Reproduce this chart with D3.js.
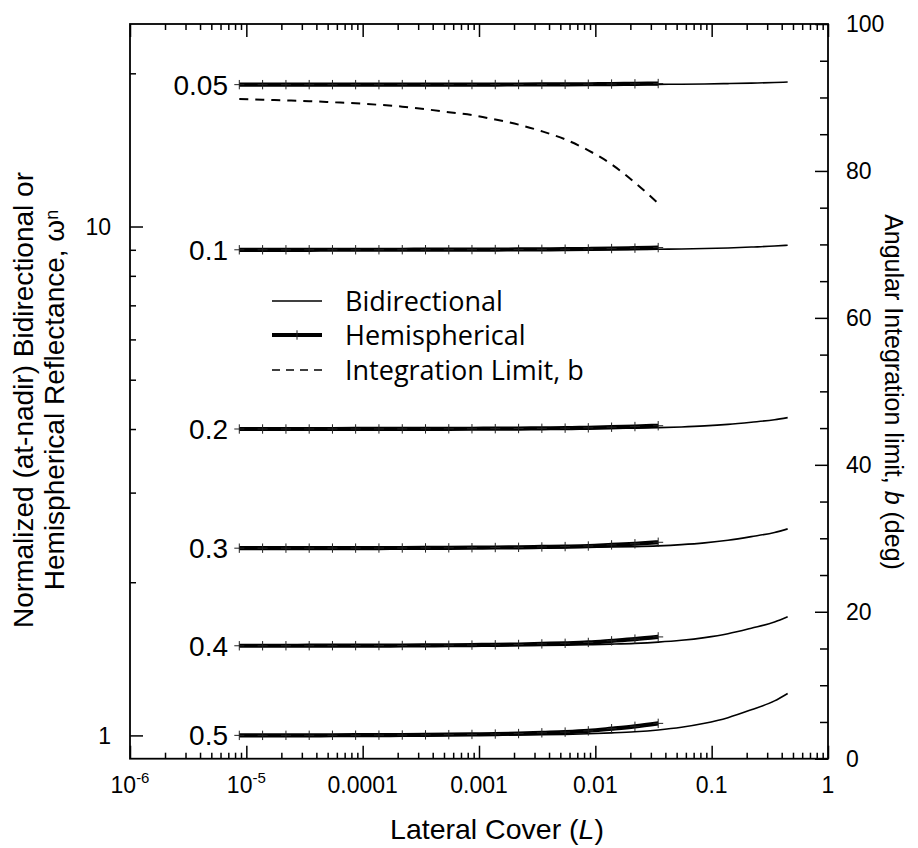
<!DOCTYPE html>
<html><head><meta charset="utf-8">
<script src="https://cdn.jsdelivr.net/npm/d3@7"></script>
<style>body{margin:0;background:#fff}svg{display:block}</style>
</head><body>
<svg id="c" width="918" height="848"></svg>
<script>
// ---------- data ----------
const curveLabels = ["0.05","0.1","0.2","0.3","0.4","0.5"];
const curveBase = [19, 9, 4, 2.333, 1.5, 1];

const coverHemi = [8.7e-6,1.38e-5,2.19e-5,3.47e-5,5.5e-5,8.7e-5,1.38e-4,2.19e-4,3.47e-4,5.5e-4,8.7e-4,1.38e-3,2.19e-3,3.47e-3,5.5e-3,8.7e-3,0.0138,0.0219,0.0347];
const coverBidir = [8.7e-6,1.38e-5,2.19e-5,3.47e-5,5.5e-5,8.7e-5,1.38e-4,2.19e-4,3.47e-4,5.5e-4,8.7e-4,1.38e-3,2.19e-3,3.47e-3,5.5e-3,8.7e-3,0.0138,0.0219,0.0347,0.055,0.087,0.138,0.219,0.347,0.45];

const bidir005 = [19,19,19,19,19,19,19,19,19,19.0005,19.0009,19.0014,19.002,19.0034,19.005,19.008,19.0125,19.018,19.027,19.041,19.062,19.091,19.135,19.185,19.228];
const bidir01  = [9,9,9,9,9,9,9,9,9,9.0005,9.0007,9.001,9.002,9.003,9.004,9.007,9.010,9.015,9.023,9.034,9.051,9.076,9.112,9.153,9.189];
const bidir02  = [4,4,4,4,4,4,4,4,4,4.0005,4.0008,4.0013,4.002,4.003,4.005,4.008,4.012,4.017,4.025,4.038,4.057,4.085,4.125,4.172,4.212];
const bidir03  = [2.333,2.333,2.333,2.333,2.333,2.333,2.333,2.333,2.333,2.3335,2.334,2.3343,2.335,2.336,2.338,2.341,2.345,2.350,2.358,2.371,2.390,2.418,2.458,2.505,2.546];
const bidir04  = [1.5,1.5,1.5,1.5,1.5,1.5,1.5,1.5,1.5,1.5005,1.5008,1.5013,1.502,1.503,1.5048,1.5076,1.5116,1.5168,1.5252,1.5378,1.5567,1.584,1.624,1.670,1.71];
const bidir05  = [1,1,1,1,1,1,1,1,1,1.0005,1.0008,1.0013,1.002,1.0031,1.0048,1.0075,1.0115,1.0167,1.025,1.0376,1.0564,1.0836,1.123,1.169,1.209];

const hemi005 = [19.0,19.0,19.001,19.001,19.001,19.002,19.002,19.003,19.004,19.006,19.008,19.01,19.014,19.02,19.026,19.035,19.052,19.071,19.095];
const hemi01  = [9.0004,9.0005,9.0006,9.0008,9.0012,9.0016,9.002,9.003,9.004,9.005,9.007,9.01,9.0135,9.019,9.024,9.033,9.05,9.0675,9.09];
const hemi02  = [4.0002,4.0003,4.0004,4.0005,4.0008,4.0011,4.0014,4.002,4.0027,4.0036,4.0048,4.0066,4.009,4.0126,4.016,4.022,4.033,4.045,4.06];
const hemi03  = [2.333,2.333,2.3335,2.3335,2.334,2.334,2.3345,2.335,2.336,2.337,2.338,2.340,2.342,2.346,2.350,2.356,2.368,2.380,2.396];
const hemi04  = [1.5002,1.5003,1.5004,1.5006,1.5008,1.5011,1.5015,1.502,1.5028,1.5037,1.5049,1.5068,1.509,1.513,1.517,1.523,1.534,1.546,1.5615];
const hemi05  = [1.0002,1.0003,1.0004,1.0005,1.0007,1.001,1.0013,1.0018,1.0025,1.0034,1.0045,1.0062,1.0084,1.0118,1.0151,1.0207,1.0308,1.042,1.056];

const intLimit = [89.8,89.7,89.6,89.5,89.35,89.2,89.0,88.75,88.4,88.0,87.6,87.0,86.3,85.4,84.3,82.8,80.9,78.4,75.6];

const xMajor = [1e-6,1e-5,1e-4,1e-3,1e-2,1e-1,1];
const xMajorLabels = [["10","-6"],["10","-5"],["0.0001",""],["0.001",""],["0.01",""],["0.1",""],["1",""]];
const yMajor = [1,10];
const yMajorLabels = ["1","10"];
const yMinor = [2,3,4,5,6,7,8,9,20];
const rMajor = [0,20,40,60,80,100];
const rMinor = [5,10,15,25,30,35,45,50,55,65,70,75,85,90,95];
const legendItems = ["Bidirectional","Hemispherical","Integration Limit, b"];

// ---------- layout ----------
const L = 130, R = 828, T = 24, B = 758.7;
const svg = d3.select("#c");
const x = d3.scaleLog().domain([1e-6,1]).range([L,R]);
const y = d3.scaleLog().domain([0.9,25]).range([B,T]);
const yr = d3.scaleLinear().domain([0,100]).range([B,T]);
const font = "'Liberation Sans', Arial, Helvetica, sans-serif";

const xMinor = [];
for (let k=-6;k<0;k++) for (let d=2;d<=9;d++) xMinor.push(d*Math.pow(10,k));

function strip(g){ g.select(".domain").remove(); g.selectAll("text").remove(); g.selectAll("line").attr("stroke","#000").attr("stroke-width",1.5); }
svg.append("g").attr("transform",`translate(0,${B})`).call(d3.axisBottom(x).tickValues(xMajor).tickSize(-13)).call(strip);
svg.append("g").attr("transform",`translate(0,${B})`).call(d3.axisBottom(x).tickValues(xMinor).tickSize(-6)).call(strip);
svg.append("g").attr("transform",`translate(0,${T})`).call(d3.axisTop(x).tickValues(xMajor).tickSize(-13)).call(strip);
svg.append("g").attr("transform",`translate(0,${T})`).call(d3.axisTop(x).tickValues(xMinor).tickSize(-6)).call(strip);
svg.append("g").attr("transform",`translate(${L},0)`).call(d3.axisLeft(y).tickValues(yMajor).tickSize(-13)).call(strip);
svg.append("g").attr("transform",`translate(${L},0)`).call(d3.axisLeft(y).tickValues(yMinor).tickSize(-6)).call(strip);
svg.append("g").attr("transform",`translate(${R},0)`).call(d3.axisRight(yr).tickValues(rMajor).tickSize(-13)).call(strip);
svg.append("g").attr("transform",`translate(${R},0)`).call(d3.axisRight(yr).tickValues(rMinor).tickSize(-8)).call(strip);

svg.append("rect").attr("x",L).attr("y",T).attr("width",R-L).attr("height",B-T)
  .attr("fill","none").attr("stroke","#000").attr("stroke-width",1.8);

// x labels
xMajor.forEach((v,i)=>{
  const t = svg.append("text").attr("x",x(v)).attr("y",793).attr("text-anchor","middle")
    .attr("font-family",font).attr("font-size",23).attr("fill","#000");
  t.append("tspan").text(xMajorLabels[i][0]);
  if (xMajorLabels[i][1]) t.append("tspan").attr("dy",-10).attr("font-size",15).text(xMajorLabels[i][1]);
});
// left labels
yMajor.forEach((v,i)=>{
  svg.append("text").attr("x",111).attr("y",y(v)).attr("dy","0.36em").attr("text-anchor","end")
    .attr("font-family",font).attr("font-size",23).text(yMajorLabels[i]);
});
// right labels
rMajor.forEach(v=>{
  svg.append("text").attr("x",846).attr("y",yr(v)).attr("dy","0.36em").attr("text-anchor","start")
    .attr("font-family",font).attr("font-size",23).text(v);
});

// titles
const bt = svg.append("text").attr("x",497).attr("y",839).attr("text-anchor","middle")
  .attr("font-family",font).attr("font-size",28.5);
bt.append("tspan").text("Lateral Cover (");
bt.append("tspan").attr("font-style","italic").text("L");
bt.append("tspan").text(")");

const lt = svg.append("g").attr("transform","translate(0,400) rotate(-90)");
lt.append("text").attr("x",0).attr("y",33).attr("text-anchor","middle").attr("font-family",font).attr("font-size",28)
  .text("Normalized (at-nadir) Bidirectional or");
const lt2 = lt.append("text").attr("x",0).attr("y",64).attr("text-anchor","middle").attr("font-family",font).attr("font-size",28);
lt2.append("tspan").text("Hemispherical Reflectance, \u03c9");
lt2.append("tspan").attr("font-size",18).attr("dy",-6).text("n");

const rt = svg.append("g").attr("transform","translate(885,392) rotate(90)");
const rtt = rt.append("text").attr("x",0).attr("y",0).attr("text-anchor","middle").attr("font-family",font).attr("font-size",25);
rtt.append("tspan").text("Angular Integration limit, ");
rtt.append("tspan").attr("font-style","italic").text("b");
rtt.append("tspan").text(" (deg)");

// ---------- series ----------
const bidirAll = [bidir005,bidir01,bidir02,bidir03,bidir04,bidir05];
const hemiAll = [hemi005,hemi01,hemi02,hemi03,hemi04,hemi05];
const line = d3.line().x(d=>x(d[0])).y(d=>y(d[1])).curve(d3.curveMonotoneX);
const plot = svg.append("g");

bidirAll.forEach((arr,i)=>{
  plot.append("path").datum(coverBidir.map((c,j)=>[c,arr[j]]))
    .attr("d",line).attr("fill","none").attr("stroke","#000").attr("stroke-width",1.6);
});
hemiAll.forEach((arr,i)=>{
  const pts = coverHemi.map((c,j)=>[c,arr[j]]);
  plot.append("path").datum(pts).attr("d",line).attr("fill","none").attr("stroke","#000").attr("stroke-width",4.2);
  plot.selectAll(null).data(pts).enter().append("path")
    .attr("d",d=>`M${x(d[0])-5},${y(d[1])}h10M${x(d[0])},${y(d[1])-4.7}v9.4`)
    .attr("stroke","#222").attr("stroke-width",1).attr("fill","none");
  svg.append("text").attr("x",228).attr("y",y(curveBase[i])).attr("dy","0.36em").attr("text-anchor","end")
    .attr("font-family",font).attr("font-size",28).text(curveLabels[i]);
});
const dline = d3.line().x(d=>x(d[0])).y(d=>yr(d[1])).curve(d3.curveMonotoneX);
plot.append("path").datum(coverHemi.map((c,j)=>[c,intLimit[j]])).attr("d",dline)
  .attr("fill","none").attr("stroke","#000").attr("stroke-width",2).attr("stroke-dasharray","9,7");

// ---------- legend ----------
const lg = svg.append("g");
const ly = [301,335,370];
lg.append("line").attr("x1",272).attr("x2",322).attr("y1",ly[0]).attr("y2",ly[0]).attr("stroke","#000").attr("stroke-width",1.6);
lg.append("line").attr("x1",272).attr("x2",322).attr("y1",ly[1]).attr("y2",ly[1]).attr("stroke","#000").attr("stroke-width",4.2);
lg.append("path").attr("d",`M297,${ly[1]-4.7}v9.4`).attr("stroke","#222").attr("stroke-width",1);
lg.append("line").attr("x1",272).attr("x2",322).attr("y1",ly[2]).attr("y2",ly[2]).attr("stroke","#000").attr("stroke-width",1.6).attr("stroke-dasharray","8,6");
legendItems.forEach((t,i)=>{
  lg.append("text").attr("x",345).attr("y",ly[i]).attr("dy","0.36em").attr("font-family","'Open Sans', 'Noto Sans', sans-serif")
    .attr("font-size",27).text(t);
});
</script>
</body></html>
